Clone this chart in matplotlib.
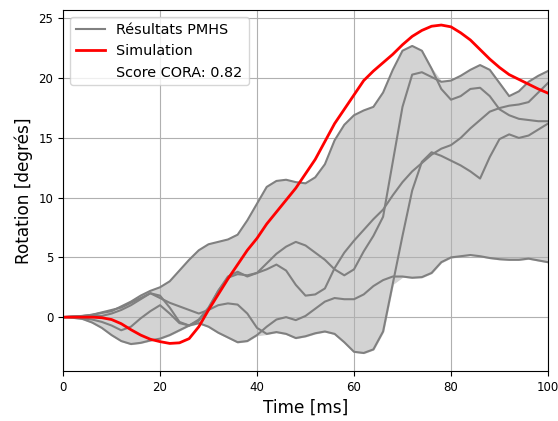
import numpy as np
from matplotlib import pyplot as plt

# time grid of the curves, in ms
time_ms = list(range(0, 101, 2))

# PMHS test results (rotation in degrees)
pmhs_a = [0, 0.05, 0.1, 0.2, 0.35, 0.5, 0.9, 1.3, 1.8, 2.2, 2.5, 3.0, 3.9, 4.8, 5.6, 6.1,
          6.3, 6.5, 6.9, 8.1, 9.5, 10.9, 11.4, 11.5, 11.3, 11.2, 11.7, 12.8, 14.8, 16.1,
          16.9, 17.3, 17.6, 18.8, 20.7, 22.3, 22.7, 22.3, 20.8, 19.1, 18.2, 18.5, 19.1,
          19.2, 18.5, 17.4, 16.9, 16.6, 16.5, 16.4, 16.4]
pmhs_b = [0, 0.05, 0.05, 0.1, 0.1, 0.3, 0.6, 1.0, 1.5, 2.0, 1.8, 0.8, -0.4, -0.7, -0.3, 0.7,
          2.2, 3.4, 3.8, 3.4, 3.7, 4.5, 5.3, 5.9, 6.3, 6.0, 5.4, 4.8, 4.0, 3.5, 4.0, 5.5,
          6.8, 8.4, 13.0, 17.6, 20.3, 20.5, 20.1, 19.7, 19.8, 20.2, 20.7, 21.1, 20.7,
          19.6, 18.5, 18.9, 19.7, 20.2, 20.6]
pmhs_c = [0, 0, -0.1, -0.2, -0.4, -0.7, -1.1, -0.8, -0.1, 0.5, 1.0, 0.3, -0.5, -0.7, -0.2,
          0.8, 2.2, 3.3, 3.6, 3.5, 3.7, 4.0, 4.4, 3.9, 2.7, 1.8, 1.9, 2.4, 4.1, 5.4, 6.4,
          7.3, 8.2, 9.0, 10.2, 11.3, 12.2, 12.9, 13.6, 14.1, 14.4, 15.0, 15.8, 16.5,
          17.2, 17.5, 17.7, 17.8, 18.0, 18.8, 19.6]
pmhs_d = [0, 0.05, 0.1, 0.2, 0.4, 0.6, 0.8, 1.2, 1.6, 2.0, 1.6, 1.2, 0.9, 0.6, 0.3, 0.6,
          1.0, 1.15, 1.05, 0.3, -0.9, -1.4, -1.25, -1.4, -1.75, -1.6, -1.35, -1.2, -1.4,
          -2.1, -2.9, -3.0, -2.7, -1.2, 2.8, 6.8, 10.6, 13.0, 13.8, 13.5, 13.1, 12.7,
          12.2, 11.6, 13.4, 14.9, 15.3, 15.0, 15.2, 15.7, 16.2]
pmhs_e = [0, -0.05, -0.15, -0.45, -0.9, -1.5, -2.0, -2.25, -2.15, -1.95, -1.8, -1.5, -1.1,
          -0.7, -0.5, -0.8, -1.3, -1.7, -2.1, -2.0, -1.5, -0.8, -0.2, 0.0, -0.25, 0.1,
          0.7, 1.3, 1.6, 1.5, 1.5, 1.9, 2.6, 3.1, 3.4, 3.4, 3.3, 3.35, 3.7, 4.6, 5.0,
          5.1, 5.2, 5.1, 4.95, 4.85, 4.8, 4.8, 4.9, 4.75, 4.6]

# simulation result
simulation = [0, 0, 0, 0, -0.05, -0.2, -0.55, -1.05, -1.5, -1.85, -2.05, -2.2, -2.15, -1.8,
              -0.8, 0.6, 1.9, 3.2, 4.4, 5.6, 6.6, 7.8, 8.8, 9.8, 10.8, 12.0, 13.2, 14.7,
              16.2, 17.4, 18.6, 19.8, 20.6, 21.3, 22.0, 22.8, 23.5, 24.0, 24.35, 24.45,
              24.3, 23.8, 23.2, 22.4, 21.6, 20.9, 20.3, 19.9, 19.5, 19.1, 18.75]

cora_score = 0.82

pmhs = np.array([pmhs_a, pmhs_b, pmhs_c, pmhs_d, pmhs_e])

fig = plt.figure(figsize=(5.58, 4.21), dpi=100)
ax = fig.add_axes([0.113, 0.119, 0.869, 0.857])

# corridor between the PMHS curves
ax.fill_between(time_ms, pmhs.min(axis=0), pmhs.max(axis=0), color="lightgray")
for i, curve in enumerate(pmhs):
    ax.plot(time_ms, curve, color="gray", lw=1.5,
            label="Résultats PMHS" if i == 0 else None)
ax.plot(time_ms, simulation, color="red", lw=2, label="Simulation")
ax.plot([], [], " ", label="Score CORA: %.2f" % cora_score)

ax.set_xlim(0, 100)
ax.set_ylim(-4.5, 25.7)
ax.grid(True)
ax.tick_params(labelsize=8.5)
ax.set_xlabel("Time [ms]", fontsize=12.2)
ax.set_ylabel("Rotation [degrés]", fontsize=12.2)
ax.legend(loc="upper left", fontsize=10.4)

fig.savefig("out.png", dpi=100)
